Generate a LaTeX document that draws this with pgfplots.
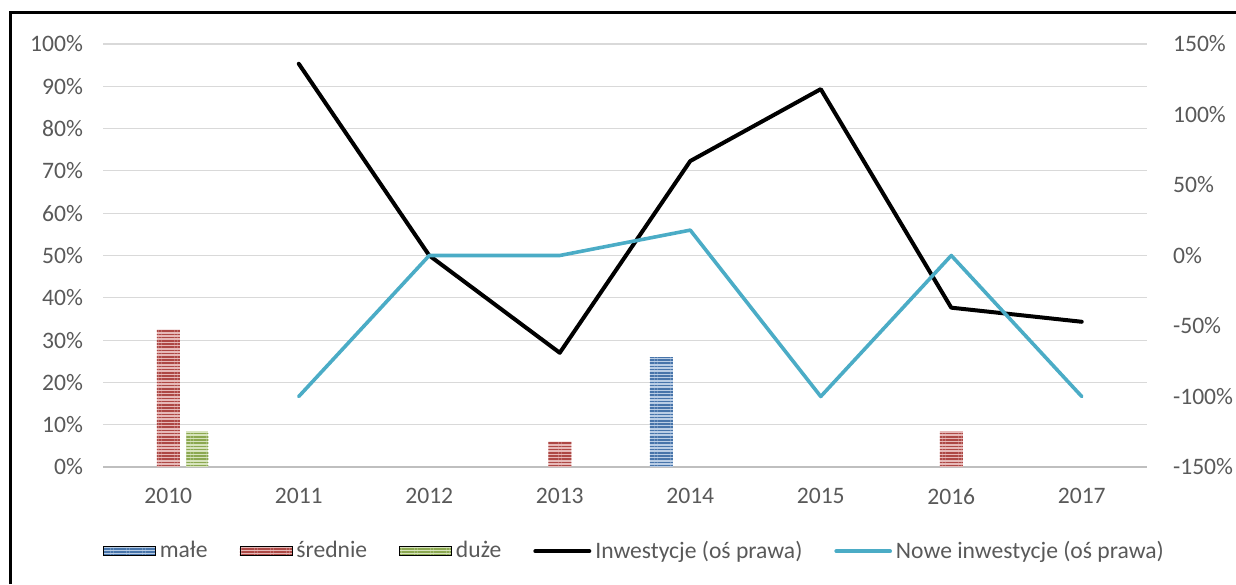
\documentclass[border=0pt]{standalone}
\usepackage{fontspec}
\setmainfont{Carlito}
\usepackage{pgfplots}
\pgfplotsset{compat=1.18}
\usetikzlibrary{patterns.meta}

\definecolor{txt}{HTML}{595959}
\definecolor{malec}{HTML}{4F81BD}
\definecolor{srec}{HTML}{C0504D}
\definecolor{duzc}{HTML}{9BBB59}
\definecolor{nowec}{HTML}{4BACC6}
\definecolor{gridc}{HTML}{D9D9D9}
\definecolor{axc}{HTML}{BFBFBF}

\tikzset{stripe/.style={fill=#1!40, postaction={pattern={Lines[angle=0,distance=1.6pt,line width=0.75pt]}, pattern color=#1!90!black}}}

\pgfplotsset{
  common/.style={
    scale only axis, width=522pt, height=211.5pt,
    at={(51.5pt,58.5pt)}, anchor=south west,
    xmin=-0.5, xmax=7.5,
    axis line style={draw=none},
    major tick length=0pt,
    tick label style={font=\fontsize{11.8}{13}\selectfont, text=txt},
    /pgf/number format/assume math mode=true,
  },
}

\begin{document}
\begin{tikzpicture}
\path[use as bounding box] (0,0) rectangle (618pt,292pt);
\draw[black, line width=1.5pt] (5pt,0) -- (5pt,285.5pt) -- (618pt,285.5pt);

% left axis: bars
\begin{axis}[common,
  ymin=0, ymax=100, ytick={0,10,...,100},
  yticklabel={\pgfmathprintnumber{\tick}\%},
  yticklabel style={xshift=-6.5pt},
  ymajorgrids, grid style={gridc, line width=0.6pt},
  xtick={0,...,7},
  xticklabels={2010,2011,2012,2013,2014,2015,2016,2017},
  xticklabel style={yshift=-7pt},
  extra y ticks={0}, extra y tick labels={},
  extra y tick style={grid style={axc, line width=1.4pt}},
]
\addplot[ybar, bar width=11.5pt, bar shift=-14.5pt, draw=none, stripe=malec]
  coordinates {(4,26)};
\addplot[ybar, bar width=11.5pt, bar shift=0pt, draw=none, stripe=srec]
  coordinates {(0,32.5) (3,6) (6,8.5)};
\addplot[ybar, bar width=11pt, bar shift=14.5pt, draw=none, stripe=duzc]
  coordinates {(0,8.5)};
\end{axis}

% right axis: lines
\begin{axis}[common,
  ymin=-150, ymax=150, ytick={-150,-100,...,150},
  yticklabel pos=right,
  yticklabel={\pgfmathprintnumber{\tick}\%},
  yticklabel style={xshift=9.5pt, anchor=west},
  xtick=\empty,
  legend columns=5,
  legend style={at={(0.51,-0.199)}, anchor=center, draw=none, fill=none,
    font=\fontsize{11.8}{13}\selectfont, text=txt,
    /tikz/every even column/.append style={column sep=14pt}},
  legend cell align=left,
  legend image code/.code={\draw[#1] (0pt,0pt) -- (27pt,0pt);},
]
\addlegendimage{legend image code/.code={\draw[stripe=malec,draw=none] (0pt,-2.3pt) rectangle (26pt,2.3pt);}}
\addlegendentry{małe}
\addlegendimage{legend image code/.code={\draw[stripe=srec,draw=none] (0pt,-2.3pt) rectangle (26pt,2.3pt);}}
\addlegendentry{średnie}
\addlegendimage{legend image code/.code={\draw[stripe=duzc,draw=none] (0pt,-2.3pt) rectangle (26pt,2.3pt);}}
\addlegendentry{duże}
\addplot[black, line width=2pt, line join=round, line cap=round]
  coordinates {(1,136) (2,0) (3,-69) (4,67) (5,118) (6,-37) (7,-47)};
\addlegendentry{Inwestycje (oś prawa)}
\addplot[nowec, line width=1.8pt, line join=round, line cap=round]
  coordinates {(1,-100) (2,0) (3,0) (4,18) (5,-100) (6,0) (7,-100)};
\addlegendentry{Nowe inwestycje (oś prawa)}
\end{axis}
\end{tikzpicture}
\end{document}
